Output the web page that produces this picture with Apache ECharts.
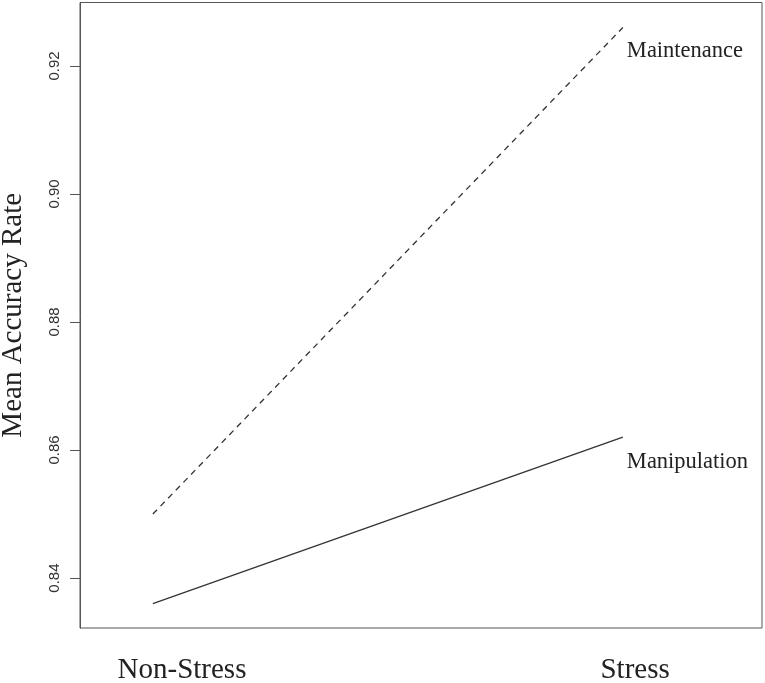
<!DOCTYPE html>
<html>
<head>
<meta charset="utf-8">
<script src="https://cdn.jsdelivr.net/npm/echarts@6/dist/echarts.min.js"></script>
<style>html,body{margin:0;padding:0;background:#fff}#c{width:765px;height:683px}</style>
</head>
<body>
<div id="c"></div>
<script>
var categories = ['Non-Stress', 'Stress'];
var xPositions = [1, 2];
var categoryLabelX = [1.062, 2.026];
var maintenance = [0.850, 0.926];
var manipulation = [0.836, 0.862];
var yTicks = [0.84, 0.86, 0.88, 0.90, 0.92];

var chart = echarts.init(document.getElementById('c'));
var serif = 'Liberation Serif';
var lineColor = '#333';

function pts(vals) { return vals.map(function (v, i) { return [xPositions[i], v]; }); }

var option = {
  animation: false,
  grid: { left: 80, right: 3, top: 2.5, bottom: 55, containLabel: false, outerBoundsMode: 'none', show: true, borderColor: '#555', borderWidth: 1, backgroundColor: 'transparent' },
  xAxis: {
    type: 'value', min: 0.845, max: 2.296,
    axisLine: { show: false }, axisTick: { show: false }, axisLabel: { show: false }, splitLine: { show: false }
  },
  yAxis: {
    type: 'value', min: 0.8322, max: 0.9299,
    name: 'Mean Accuracy Rate', nameLocation: 'middle', nameGap: 52,
    nameTextStyle: { fontFamily: serif, fontSize: 29, color: '#222' },
    axisLine: { show: true, lineStyle: { color: '#555', width: 1 } },
    axisTick: { show: true, length: 10, lineStyle: { color: '#555' }, customValues: yTicks },
    axisLabel: {
      rotate: 90, margin: 18, fontFamily: 'Liberation Sans', fontSize: 15, color: '#333',
      customValues: yTicks,
      formatter: function (v) { return v.toFixed(2); }
    },
    splitLine: { show: false }
  },
  series: [
    {
      name: 'Maintenance', type: 'line', data: pts(maintenance), showSymbol: false, symbol: 'none',
      lineStyle: { color: lineColor, width: 1.3, type: [6, 5] },
      endLabel: { show: true, formatter: '{a}', offset: [0, 24], distance: 4, fontFamily: serif, fontSize: 22.5, color: '#222' }
    },
    {
      name: 'Manipulation', type: 'line', data: pts(manipulation), showSymbol: false, symbol: 'none',
      lineStyle: { color: lineColor, width: 1.3 },
      endLabel: { show: true, formatter: '{a}', offset: [0, 25], distance: 4, fontFamily: serif, fontSize: 22.5, color: '#222' }
    }
  ]
};
chart.setOption(option);

var gfx = categories.map(function (c, i) {
  var p = chart.convertToPixel({ gridIndex: 0 }, [categoryLabelX[i], 0.8322]);
  return {
    type: 'text', x: p[0], y: p[1] + 42,
    style: { text: c, fontFamily: serif, fontSize: 29, fill: '#222', align: 'center', verticalAlign: 'middle' }
  };
});
chart.setOption({ graphic: gfx });
</script>
</body>
</html>
